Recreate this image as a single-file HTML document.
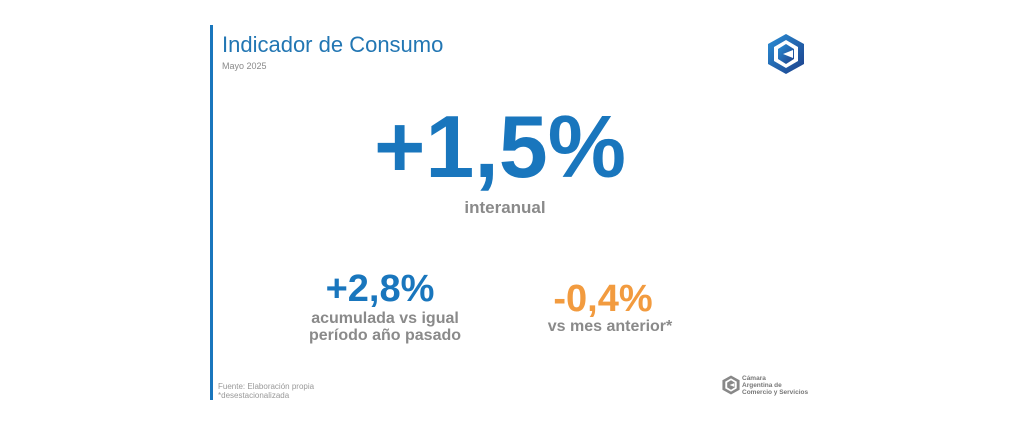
<!DOCTYPE html>
<html><head><meta charset="utf-8"><style>
body{margin:0;width:1024px;height:425px;background:#fff;position:relative;overflow:hidden;font-family:"Liberation Sans",Arial,sans-serif}
.a{position:absolute;line-height:1;white-space:nowrap}
.c{transform:translateX(-50%);text-align:center}
.b{font-weight:bold}
.g{color:#8a8a8a}
.bl{color:#1976bd}
.or{color:#f29b3f}
</style></head><body>
<div style="position:absolute;left:210px;top:25px;width:3px;height:375px;background:#1976bd"></div>
<div class="a" style="left:222px;top:34px;font-size:22px;color:#2276b3">Indicador de Consumo</div>
<div class="a g" style="left:222px;top:62px;font-size:9px">Mayo 2025</div>
<svg style="position:absolute;left:766px;top:33px" width="40" height="42" viewBox="0 0 40 42">
<defs><linearGradient id="gr" x1="0" y1="0" x2="1" y2="1"><stop offset="0" stop-color="#2a8fd6"/><stop offset="1" stop-color="#1d3f8a"/></linearGradient></defs>
<polygon points="20,1 38,11 38,31 20,41 2,31 2,11" fill="url(#gr)"/>
<polygon points="20,7 32,14 32,28 20,35 8,28 8,14" fill="#fff"/>
<polygon points="20,11 28,16 28,26 20,31 12,26 12,16" fill="url(#gr)"/>
<polygon points="27,17 27,25 17,21" fill="#fff"/>
</svg>
<div class="a c b bl" style="left:500px;top:103px;font-size:88px">+1,5%</div>
<div class="a c b g" style="left:505px;top:199px;font-size:17px">interanual</div>
<div class="a c b bl" style="left:380px;top:270px;font-size:38px">+2,8%</div>
<div class="a c b g" style="left:385px;top:310px;font-size:16px;line-height:17px">acumulada vs igual<br>período año pasado</div>
<div class="a c b or" style="left:603px;top:280px;font-size:38px">-0,4%</div>
<div class="a c b g" style="left:610px;top:319px;font-size:16px">vs mes anterior*</div>
<div class="a g" style="left:218px;top:382px;font-size:8px;line-height:9px;color:#999">Fuente: Elaboración propia<br>*desestacionalizada</div>
<svg style="position:absolute;left:721px;top:375px" width="20" height="20" viewBox="0 0 40 42">
<polygon points="20,1 38,11 38,31 20,41 2,31 2,11" fill="#888"/>
<polygon points="20,7 32,14 32,28 20,35 8,28 8,14" fill="#fff"/>
<polygon points="20,11 28,16 28,26 20,31 12,26 12,16" fill="#888"/>
<polygon points="27,17 27,25 17,21" fill="#fff"/>
</svg>
<div class="a b" style="left:742px;top:375px;font-size:6.5px;line-height:7px;color:#777">Cámara<br>Argentina de<br>Comercio y Servicios</div>
</body></html>
